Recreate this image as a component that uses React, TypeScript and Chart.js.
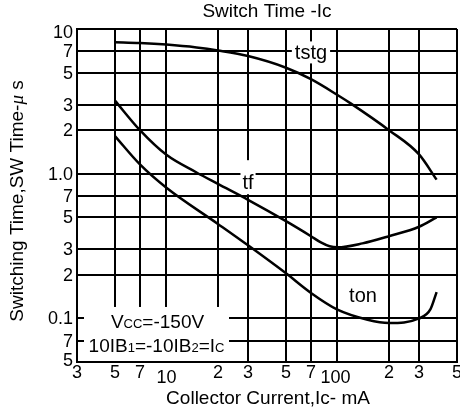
import React, { useEffect, useRef } from "react";
import { Chart, registerables } from "chart.js";

Chart.register(...registerables);

const FONT = '"Liberation Sans", Arial, Helvetica, sans-serif';

// Axis grid values and their printed labels
const xGrid = [3, 5, 7, 10, 20, 30, 50, 70, 100, 200, 300, 500];
const xGridLabels = ["3", "5", "7", "10", "2", "3", "5", "7", "100", "2", "3", "5"];
const yGrid = [0.05, 0.07, 0.1, 0.2, 0.3, 0.5, 0.7, 1, 2, 3, 5, 7, 10];
const yGridLabels = ["5", "7", "0.1", "2", "3", "5", "7", "1.0", "2", "3", "5", "7", "10"];

// Series: collector current (mA) vs switching time (us)
const tstgIc = [5, 7, 10, 15, 20, 30, 50, 70, 100, 120, 200, 300, 380];
const tstgTime = [8.1, 8.0, 7.8, 7.45, 7.1, 6.5, 5.4, 4.5, 3.5, 3.05, 2.0, 1.36, 0.91];

const tfIc = [5, 7, 10, 15, 20, 30, 50, 70, 80, 90, 100, 140, 200, 300, 380];
const tfTime = [3.2, 2.0, 1.35, 1.02, 0.85, 0.66, 0.47, 0.37, 0.335, 0.315, 0.31, 0.33, 0.37, 0.43, 0.5];

const tonIc = [5, 7, 10, 20, 30, 50, 70, 100, 150, 200, 300, 350, 380];
const tonTime = [1.82, 1.16, 0.8, 0.45, 0.32, 0.205, 0.15, 0.115, 0.098, 0.093, 0.1, 0.116, 0.152];

const titleText = "Switch Time -Ic";
const xTitleText = "Collector Current,Ic- mA";
const yTitleParts = ["Switching Time,SW Time-", "\u03bc", " s"];

export default function App() {
  const ref = useRef<HTMLCanvasElement>(null);

  useEffect(() => {
    const canvas = ref.current;
    if (!canvas) return;

    const pts = (xs: number[], ys: number[]) => xs.map((x, i) => ({ x, y: ys[i] }));

    const overlay = {
      id: "overlay",
      beforeDatasetsDraw(chart: any) {
        const { ctx, chartArea } = chart;
        const xs = chart.scales.x;
        const ys = chart.scales.y;
        ctx.save();
        ctx.textAlign = "center";
        ctx.textBaseline = "middle";

        // tstg label
        ctx.font = `20px ${FONT}`;
        let cx = xs.getPixelForValue(70);
        let cy = ys.getPixelForValue(7) + 2;
        let w = ctx.measureText("tstg").width;
        ctx.fillStyle = "#fff";
        ctx.fillRect(cx - w / 2 - 3, cy - 12, w + 6, 22);
        ctx.fillStyle = "#000";
        ctx.fillText("tstg", cx, cy);

        // tf label
        cx = xs.getPixelForValue(30);
        cy = ys.getPixelForValue(0.86);
        w = ctx.measureText("tf").width;
        ctx.fillStyle = "#fff";
        ctx.fillRect(cx - w / 2 - 2, cy - 23, w + 4, 34);
        ctx.fillStyle = "#000";
        ctx.fillText("tf", cx, cy);

        // ton label
        cx = xs.getPixelForValue(141);
        cy = ys.getPixelForValue(0.141);
        w = ctx.measureText("ton").width;
        ctx.fillStyle = "#fff";
        ctx.fillRect(cx - w / 2 - 2, cy - 11, w + 4, 22);
        ctx.fillStyle = "#000";
        ctx.fillText("ton", cx, cy);

        // condition box
        const bl = chartArea.left + 7;
        const br = chartArea.left + 152;
        const bt = ys.getPixelForValue(0.12);
        const bb = chartArea.bottom - 1;
        ctx.fillStyle = "#fff";
        ctx.fillRect(bl, bt, br - bl, bb - bt);
        ctx.fillStyle = "#000";
        ctx.textAlign = "left";
        ctx.textBaseline = "alphabetic";
        const big = `19px ${FONT}`;
        const small = `13px ${FONT}`;
        const drawRuns = (runs: [string, string][], centerX: number, baseY: number) => {
          let total = 0;
          for (const [t, f] of runs) {
            ctx.font = f;
            total += ctx.measureText(t).width;
          }
          let x = centerX - total / 2;
          for (const [t, f] of runs) {
            ctx.font = f;
            ctx.fillText(t, x, baseY);
            x += ctx.measureText(t).width;
          }
        };
        const mid = (bl + br) / 2;
        drawRuns([["V", big], ["CC", small], ["=-150V", big]], mid + 1, bt + 21);
        drawRuns(
          [["10IB", big], ["1", small], ["=-10IB", big], ["2", small], ["=I", big], ["C", small]],
          mid,
          bt + 45
        );
        ctx.restore();
      },
      afterDraw(chart: any) {
        const { ctx, chartArea } = chart;
        const xs = chart.scales.x;
        const ys = chart.scales.y;
        ctx.save();
        ctx.fillStyle = "#000";
        ctx.font = `18px ${FONT}`;
        ctx.textBaseline = "middle";

        // y tick labels
        ctx.textAlign = "right";
        yGrid.forEach((v, i) => {
          let py = ys.getPixelForValue(v);
          if (i === 0) py -= 2;
          if (i === yGrid.length - 1) py += 3;
          ctx.fillText(yGridLabels[i], chartArea.left - 4, py + 1);
        });

        // x tick labels
        ctx.textAlign = "center";
        xGrid.forEach((v, i) => {
          const px = xs.getPixelForValue(v);
          const lbl = xGridLabels[i];
          const low = lbl === "10" || lbl === "100";
          ctx.fillText(lbl, px - (lbl === "100" ? 2 : 0), chartArea.bottom + (low ? 16 : 11));
        });

        // titles
        ctx.font = `19px ${FONT}`;
        ctx.fillText(titleText, (chartArea.left + chartArea.right) / 2, 12);
        ctx.fillText(xTitleText, (chartArea.left + chartArea.right) / 2 + 1, 399);

        // rotated y title
        ctx.translate(18, 201);
        ctx.rotate(-Math.PI / 2);
        const fonts = [`19px ${FONT}`, `italic 19px "Liberation Serif", "DejaVu Serif", serif`, `19px ${FONT}`];
        let total = 0;
        yTitleParts.forEach((t, i) => {
          ctx.font = fonts[i];
          total += ctx.measureText(t).width;
        });
        ctx.textAlign = "left";
        let x = -total / 2;
        yTitleParts.forEach((t, i) => {
          ctx.font = fonts[i];
          ctx.fillText(t, x, 0);
          x += ctx.measureText(t).width;
        });
        ctx.restore();
      },
    };

    const lineStyle = {
      borderColor: "#000",
      borderWidth: 2.5,
      pointRadius: 0,
      fill: false,
      cubicInterpolationMode: "monotone" as const,
    };

    const chart = new Chart(canvas, {
      type: "line",
      data: {
        datasets: [
          { label: "tstg", data: pts(tstgIc, tstgTime), ...lineStyle },
          { label: "tf", data: pts(tfIc, tfTime), ...lineStyle },
          { label: "ton", data: pts(tonIc, tonTime), ...lineStyle },
        ],
      },
      options: {
        responsive: false,
        animation: false,
        devicePixelRatio: 1,
        layout: { padding: { left: 77, right: 3, top: 29, bottom: 52 } },
        plugins: {
          legend: { display: false },
          tooltip: { enabled: false },
          title: { display: false },
        },
        scales: {
          x: {
            type: "logarithmic",
            min: 3,
            max: 500,
            ticks: { display: false },
            grid: { color: "#000", lineWidth: 2, drawTicks: false },
            border: { color: "#000", width: 2 },
            afterBuildTicks: (s: any) => {
              s.ticks = xGrid.map((v) => ({ value: v }));
            },
          },
          y: {
            type: "logarithmic",
            min: 0.05,
            max: 10,
            ticks: { display: false },
            grid: { color: "#000", lineWidth: 2, drawTicks: false },
            border: { color: "#000", width: 2 },
            afterBuildTicks: (s: any) => {
              s.ticks = yGrid.map((v) => ({ value: v }));
            },
          },
        },
      },
      plugins: [overlay],
    } as any);

    return () => chart.destroy();
  }, []);

  return (
    <div style={{ position: "absolute", left: 0, top: 0, width: 460, height: 414, background: "#fff" }}>
      <canvas ref={ref} width={460} height={414} style={{ display: "block", width: 460, height: 414 }} />
    </div>
  );
}
